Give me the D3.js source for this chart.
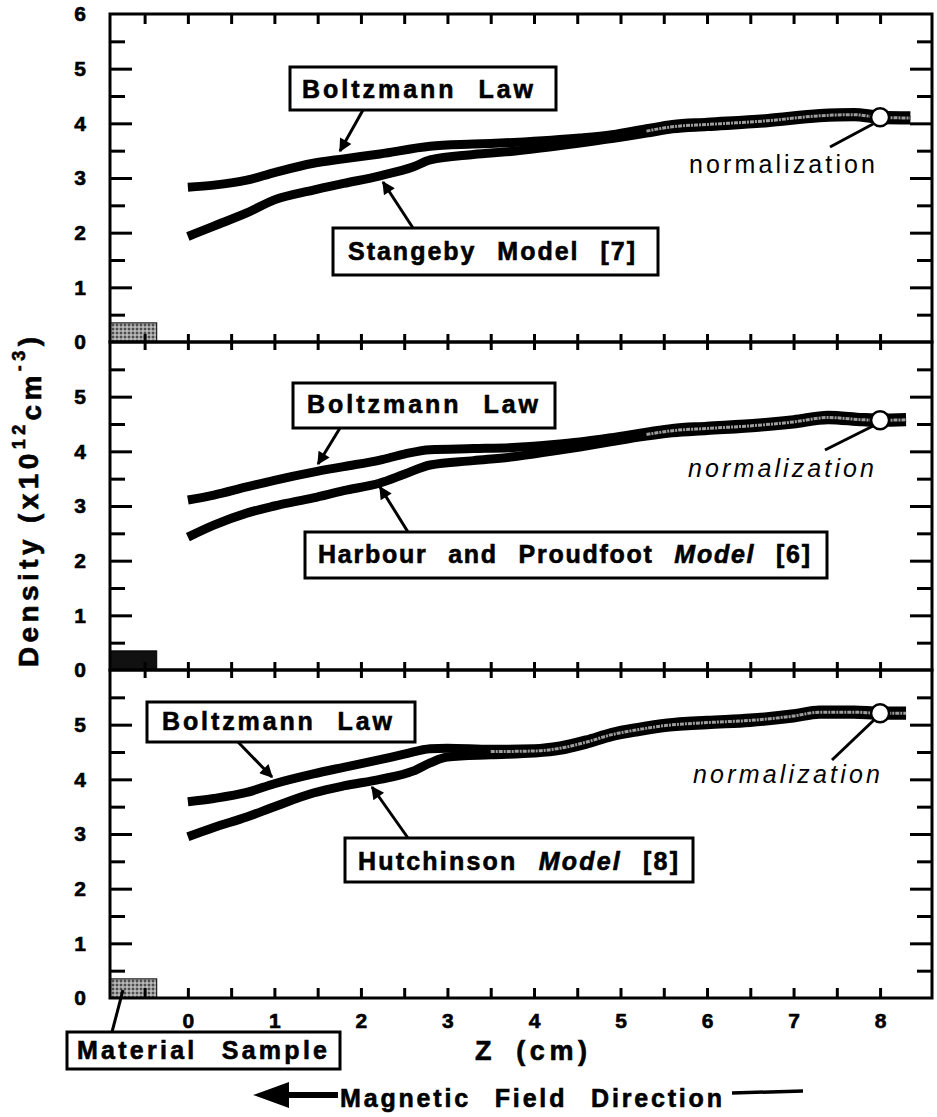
<!DOCTYPE html>
<html>
<head>
<meta charset="utf-8">
<script src="https://cdn.jsdelivr.net/npm/d3@7"></script>
<style>
  body { margin: 0; background: #fff; }
  text { font-family: 'Liberation Sans', Arial, Helvetica, sans-serif; fill: #000; }
  .heavy { stroke: #000; stroke-width: 0.6px; }
</style>
</head>
<body>
<div class="canvas"></div>
<script>
// ---- data (z in cm, density in 1e12 cm^-3) ----
const boltz1 = [[0,2.83],[0.3,2.87],[0.68,2.96],[1.0,3.1],[1.45,3.27],[1.8,3.35],[2.22,3.44],[2.8,3.58],[3.3,3.62],[3.76,3.65],[4.2,3.69],[4.53,3.73],[4.9,3.79],[5.3,3.9],[5.6,3.98],[6.0,4.02],[6.7,4.09],[7.3,4.18],[7.7,4.2],[8.0,4.15],[8.35,4.14]];
const model1 = [[0,1.93],[0.3,2.12],[0.68,2.36],[1.0,2.6],[1.45,2.78],[1.8,2.9],[2.22,3.04],[2.6,3.2],[2.8,3.33],[3.3,3.43],[3.76,3.49],[4.2,3.57],[4.53,3.64],[4.9,3.72],[5.3,3.82],[5.6,3.9],[6.0,3.94],[6.7,4.01],[7.3,4.1],[7.7,4.12],[8.0,4.07],[8.35,4.06]];

const boltz2 = [[0,3.11],[0.3,3.2],[0.68,3.35],[1.0,3.47],[1.45,3.62],[1.8,3.72],[2.22,3.84],[2.5,3.95],[2.8,4.03],[3.3,4.05],[3.76,4.07],[4.2,4.12],[4.53,4.17],[4.9,4.25],[5.3,4.35],[5.6,4.42],[6.0,4.46],[6.6,4.52],[7.0,4.58],[7.4,4.66],[7.8,4.62],[8.0,4.61],[8.3,4.62]];
const model2 = [[0,2.43],[0.3,2.65],[0.68,2.87],[1.0,3.0],[1.45,3.15],[1.8,3.28],[2.22,3.42],[2.5,3.58],[2.8,3.75],[3.3,3.83],[3.76,3.9],[4.2,4.0],[4.53,4.08],[4.9,4.18],[5.3,4.28],[5.6,4.34],[6.0,4.38],[6.6,4.44],[7.0,4.5],[7.4,4.58],[7.8,4.54],[8.0,4.53],[8.3,4.54]];

const boltz3 = [[0,3.59],[0.3,3.65],[0.68,3.76],[1.0,3.92],[1.45,4.1],[1.8,4.22],[2.22,4.36],[2.5,4.46],[2.8,4.56],[3.0,4.57],[3.5,4.55],[4.0,4.56],[4.3,4.61],[4.6,4.72],[4.9,4.86],[5.2,4.95],[5.54,5.03],[6.0,5.08],[6.5,5.12],[7.0,5.2],[7.3,5.27],[7.7,5.27],[8.0,5.25],[8.3,5.25]];
const model3 = [[0,2.95],[0.3,3.12],[0.68,3.31],[1.0,3.5],[1.45,3.75],[1.8,3.88],[2.22,4.0],[2.6,4.15],[2.8,4.3],[3.0,4.41],[3.5,4.45],[4.0,4.48],[4.3,4.53],[4.6,4.64],[4.9,4.78],[5.2,4.87],[5.54,4.95],[6.0,5.0],[6.5,5.04],[7.0,5.12],[7.3,5.19],[7.7,5.19],[8.0,5.17],[8.3,5.17]];

const normZ = 8;
const normValues = [4.11, 4.57, 5.21];
const mergeStart = [5.3, 5.0, 3.5];

const xTickValues = [-0.5,0,0.5,1,1.5,2,2.5,3,3.5,4,4.5,5,5.5,6,6.5,7,7.5,8];
const xTickLabels = ['0','1','2','3','4','5','6','7','8'];
const yMajor = [1,2,3,4,5];
const yMinor = [0.5,1.5,2.5,3.5,4.5,5.5];
const yTickLabels = [['0','1','2','3','4','5','6'], ['0','1','2','3','4','5'], ['0','1','2','3','4','5']];

const boltzLabel = 'Boltzmann Law';
const modelNames = ['Stangeby', 'Harbour and Proudfoot', 'Hutchinson'];
const modelRefs = ['[7]', '[6]', '[8]'];
const modelItalic = [false, true, true];

const sampleZ = [-0.9, -0.36];
const sampleH = 0.35;

// ---- layout ----
const width = 937, height = 1117;
const panelTops = [14, 342, 670];
const panelH = 328;
const left = 110, right = 932;

const layout = [
  { boltzBox:[290,53,266,43], boltzText:[302,84,231], boltzArrow:[363,96,340,137],
    modelBox:[333,214,325,47], modelText:[348,246,287], modelArrow:[413,214,383,168],
    normText:[689,159,186], normLine:[830,133,873,110] },
  { boltzBox:[293,41,262,45], boltzText:[307,71,231], boltzArrow:[340,86,318,122],
    modelBox:[305,190,522,46], modelText:[318,221,492], modelArrow:[408,190,380,145],
    normText:[688,135,186], normLine:[825,108,873,84] },
  { boltzBox:[147,32,268,40], boltzText:[162,60,230], boltzArrow:[238,72,272,107],
    modelBox:[345,168,348,44], modelText:[358,200,320], modelArrow:[408,168,372,117],
    normText:[693,113,187], normLine:[832,90,874,50] }
];

const svg = d3.select('.canvas')
    .append('svg')
    .attr('width', width)
    .attr('height', height);

const defs = svg.append('defs');

defs.append('marker')
    .attr('id', 'arrow')
    .attr('viewBox', '0 0 10 10')
    .attr('refX', 9).attr('refY', 5)
    .attr('markerUnits', 'userSpaceOnUse')
    .attr('markerWidth', 15).attr('markerHeight', 13)
    .attr('orient', 'auto')
    .append('path')
    .attr('d', 'M0,0 L10,5 L0,10 z')
    .attr('fill', '#000');

// halftone-ish fill for the material sample
const pat = defs.append('pattern')
    .attr('id', 'dots')
    .attr('width', 4).attr('height', 4)
    .attr('patternUnits', 'userSpaceOnUse');
pat.append('rect').attr('width', 4).attr('height', 4).attr('fill', '#9a9a9a');
pat.append('circle').attr('cx', 1).attr('cy', 1).attr('r', 1).attr('fill', '#333');
pat.append('circle').attr('cx', 3).attr('cy', 3).attr('r', 0.8).attr('fill', '#e0e0e0');

const sampleFill = ['url(#dots)', '#111', 'url(#dots)'];

const x = d3.scaleLinear().domain([-0.9, 8.6]).range([left, right]);

const curves = [[boltz1, model1], [boltz2, model2], [boltz3, model3]];

curves.forEach((pair, i) => {
    const top = panelTops[i];
    const y = d3.scaleLinear().domain([0, 6]).range([top + panelH, top]);
    const g = svg.append('g').attr('class', 'panel');
    const L = layout[i];

    // material sample block
    g.append('rect')
        .attr('x', x(sampleZ[0]))
        .attr('y', y(sampleH))
        .attr('width', x(sampleZ[1]) - x(sampleZ[0]))
        .attr('height', y(0) - y(sampleH))
        .attr('fill', sampleFill[i])
        .attr('stroke', '#000')
        .attr('stroke-width', 1);

    // y ticks, left & right, pointing inward
    [d3.axisRight(y).tickValues(yMajor).tickSize(22), d3.axisRight(y).tickValues(yMinor).tickSize(15)]
        .forEach(ax => {
            g.append('g').attr('class', 'tick-in')
                .attr('transform', `translate(${left},0)`)
                .call(ax.tickFormat(''));
        });
    [d3.axisLeft(y).tickValues(yMajor).tickSize(22), d3.axisLeft(y).tickValues(yMinor).tickSize(15)]
        .forEach(ax => {
            g.append('g').attr('class', 'tick-in')
                .attr('transform', `translate(${right},0)`)
                .call(ax.tickFormat(''));
        });

    // y labels
    const labs = yTickLabels[i];
    g.append('g').attr('class', 'ylab')
        .attr('transform', `translate(${left},0)`)
        .call(d3.axisLeft(y)
            .tickValues(labs.map(Number))
            .tickSize(0)
            .tickPadding(24)
            .tickFormat((d, k) => labs[k]));

    // x ticks at the top edge of the panel
    if (i === 0) {
        g.append('g').attr('class', 'tick-in')
            .attr('transform', `translate(0,${top})`)
            .call(d3.axisBottom(x).tickValues(xTickValues).tickSize(10).tickFormat(''));
    } else {
        [d3.axisBottom(x), d3.axisTop(x)].forEach(ax => {
            g.append('g').attr('class', 'tick-in')
                .attr('transform', `translate(0,${top})`)
                .call(ax.tickValues(xTickValues).tickSize(8).tickFormat(''));
        });
    }

    // frame
    g.append('rect')
        .attr('x', left).attr('y', top)
        .attr('width', right - left).attr('height', panelH)
        .attr('fill', 'none')
        .attr('stroke', '#000')
        .attr('stroke-width', 3);

    // curves
    const line = d3.line()
        .x(d => x(d[0]))
        .y(d => y(d[1]))
        .curve(d3.curveMonotoneX);

    pair.forEach(data => {
        g.append('path')
            .attr('class', 'curve')
            .attr('fill', 'none')
            .attr('stroke', '#000')
            .attr('stroke-width', 9)
            .attr('d', line(data));
    });

    // grey speckle where the two curves overlap
    const merged = pair[0].filter(d => d[0] >= mergeStart[i]);
    g.append('path')
        .attr('fill', 'none')
        .attr('stroke', '#9c9c9c')
        .attr('stroke-width', 3)
        .attr('stroke-dasharray', '4 1 2 1')
        .attr('transform', 'translate(0,2.3)')
        .attr('d', line(merged));

    // normalization circle
    g.append('circle')
        .attr('cx', x(normZ))
        .attr('cy', y(normValues[i]))
        .attr('r', 9)
        .attr('fill', '#fff')
        .attr('stroke', '#000')
        .attr('stroke-width', 2.5);

    g.append('line')
        .attr('x1', L.normLine[0]).attr('y1', top + L.normLine[1])
        .attr('x2', L.normLine[2]).attr('y2', top + L.normLine[3])
        .attr('stroke', '#000').attr('stroke-width', 3);

    g.append('text')
        .attr('x', L.normText[0]).attr('y', top + L.normText[1])
        .attr('font-size', 25)
        .attr('font-style', i === 0 ? 'normal' : 'italic')
        .attr('textLength', L.normText[2])
        .attr('lengthAdjust', 'spacing')
        .text('normalization');

    // label boxes and arrows
    const box = (b, t, arrow, fillText) => {
        g.append('line')
            .attr('x1', arrow[0]).attr('y1', top + arrow[1])
            .attr('x2', arrow[2]).attr('y2', top + arrow[3])
            .attr('stroke', '#000').attr('stroke-width', 3)
            .attr('marker-end', 'url(#arrow)');
        g.append('rect')
            .attr('x', b[0]).attr('y', top + b[1])
            .attr('width', b[2]).attr('height', b[3])
            .attr('fill', '#fff')
            .attr('stroke', '#000').attr('stroke-width', 3);
        const txt = g.append('text')
            .attr('class', 'heavy')
            .attr('x', t[0]).attr('y', top + t[1])
            .attr('font-size', 25)
            .attr('font-weight', 'bold')
            .style('word-spacing', '12px')
            .attr('textLength', t[2])
            .attr('lengthAdjust', 'spacing');
        fillText(txt);
    };

    box(L.boltzBox, L.boltzText, L.boltzArrow, t => t.text(boltzLabel));
    box(L.modelBox, L.modelText, L.modelArrow, t => {
        t.append('tspan').text(modelNames[i] + ' ');
        t.append('tspan').attr('font-style', modelItalic[i] ? 'italic' : 'normal').text('Model');
        t.append('tspan').text(' ' + modelRefs[i]);
    });
});

svg.selectAll('.tick-in .domain, .ylab .domain').remove();
svg.selectAll('.tick-in line')
    .attr('stroke', '#000')
    .attr('stroke-width', 3);
svg.selectAll('.ylab text')
    .attr('class', 'heavy')
    .attr('font-size', 21)
    .attr('font-weight', 'bold')
    .attr('font-family', "'Liberation Sans', Arial, sans-serif");

// bottom axis: ticks pointing up + labels
const bottomY = panelTops[2] + panelH;
svg.append('g').attr('class', 'tick-in')
    .attr('transform', `translate(0,${bottomY})`)
    .call(d3.axisTop(x).tickValues(xTickValues).tickSize(10).tickFormat(''))
    .call(s => s.select('.domain').remove())
    .selectAll('line').attr('stroke', '#000').attr('stroke-width', 3);

svg.append('g').attr('class', 'xlab')
    .attr('transform', `translate(0,${bottomY})`)
    .call(d3.axisBottom(x)
        .tickValues(xTickLabels.map(Number))
        .tickSize(0)
        .tickPadding(15)
        .tickFormat((d, k) => xTickLabels[k]))
    .call(s => s.select('.domain').remove())
    .selectAll('text')
    .attr('class', 'heavy')
    .attr('font-size', 21)
    .attr('font-weight', 'bold')
    .attr('font-family', "'Liberation Sans', Arial, sans-serif");

// axis titles
svg.append('text')
    .attr('class', 'heavy')
    .attr('x', 475).attr('y', 1060)
    .attr('font-size', 27)
    .attr('font-weight', 'bold')
    .style('word-spacing', '8px')
    .attr('textLength', 112)
    .attr('lengthAdjust', 'spacing')
    .text('Z (cm)');

const yTitle = svg.append('text')
    .attr('class', 'heavy')
    .attr('transform', 'translate(38,667) rotate(-90)')
    .attr('font-size', 28)
    .attr('font-weight', 'bold')
    .attr('textLength', 330)
    .attr('lengthAdjust', 'spacing');
yTitle.append('tspan').text('Density (x10');
yTitle.append('tspan').attr('font-size', 18).attr('dy', -13).text('12');
yTitle.append('tspan').attr('dy', 16).text('cm');
yTitle.append('tspan').attr('font-size', 18).attr('dy', -16).text('-3');
yTitle.append('tspan').attr('dy', 13).text(')');

// material sample label
svg.append('line')
    .attr('x1', 112).attr('y1', 1032)
    .attr('x2', 123).attr('y2', 990)
    .attr('stroke', '#000').attr('stroke-width', 3);
svg.append('rect')
    .attr('x', 67).attr('y', 1032)
    .attr('width', 273).attr('height', 37)
    .attr('fill', '#fff')
    .attr('stroke', '#000').attr('stroke-width', 3);
svg.append('text')
    .attr('class', 'heavy')
    .attr('x', 77).attr('y', 1059)
    .attr('font-size', 25)
    .attr('font-weight', 'bold')
    .style('word-spacing', '14px')
    .attr('textLength', 250)
    .attr('lengthAdjust', 'spacing')
    .text('Material Sample');

// magnetic field direction
svg.append('path')
    .attr('d', 'M253,1095 L289,1082 L289,1092 L338,1092 L338,1098 L289,1098 L289,1108 Z')
    .attr('fill', '#000');
svg.append('text')
    .attr('class', 'heavy')
    .attr('x', 340).attr('y', 1107)
    .attr('font-size', 25)
    .attr('font-weight', 'bold')
    .style('word-spacing', '14px')
    .attr('textLength', 382)
    .attr('lengthAdjust', 'spacing')
    .text('Magnetic Field Direction');
svg.append('line')
    .attr('x1', 732).attr('y1', 1093)
    .attr('x2', 803).attr('y2', 1091)
    .attr('stroke', '#000').attr('stroke-width', 3.5);
</script>
</body>
</html>
